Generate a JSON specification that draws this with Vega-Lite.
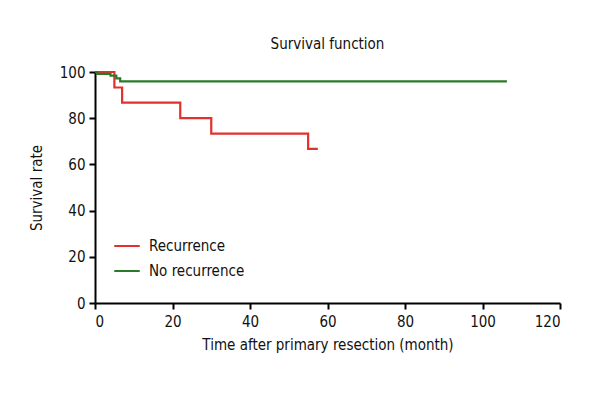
{
  "$schema": "https://vega.github.io/schema/vega-lite/v6.json",
  "width": 465,
  "height": 231,
  "autosize": {"type": "none"},
  "padding": {"left": 95, "top": 72, "right": 40, "bottom": 97},
  "background": "white",
  "title": {"text": "Survival function", "font": "Liberation Sans Narrow, DejaVu Sans Condensed, Roboto, sans-serif", "fontSize": 15, "fontWeight": "normal", "color": "#111", "offset": 13, "anchor": "middle"},
  "data": {"values": [
    {"group": "Recurrence", "time": 0, "survival": 100},
    {"group": "Recurrence", "time": 5, "survival": 93.3},
    {"group": "Recurrence", "time": 7, "survival": 86.7},
    {"group": "Recurrence", "time": 22, "survival": 80},
    {"group": "Recurrence", "time": 30, "survival": 73.3},
    {"group": "Recurrence", "time": 55, "survival": 66.7},
    {"group": "Recurrence", "time": 57.5, "survival": 66.7},
    {"group": "No recurrence", "time": 0, "survival": 100},
    {"group": "No recurrence", "time": 0.5, "survival": 99.2},
    {"group": "No recurrence", "time": 4, "survival": 98.4},
    {"group": "No recurrence", "time": 5.5, "survival": 97.2},
    {"group": "No recurrence", "time": 6.5, "survival": 95.9},
    {"group": "No recurrence", "time": 106.3, "survival": 95.9}
  ]},
  "mark": {"type": "line", "interpolate": "step-after", "strokeWidth": 2.2},
  "encoding": {
    "x": {"field": "time", "type": "quantitative", "scale": {"domain": [0, 120], "nice": false},
      "axis": {"values": [0, 20, 40, 60, 80, 100, 120], "title": "Time after primary resection (month)", "grid": false}},
    "y": {"field": "survival", "type": "quantitative", "scale": {"domain": [0, 100], "nice": false},
      "axis": {"values": [0, 20, 40, 60, 80, 100], "title": "Survival rate", "grid": false}},
    "color": {"field": "group", "type": "nominal",
      "scale": {"domain": ["Recurrence", "No recurrence"], "range": ["#e3302c", "#2a7a2a"]},
      "legend": {"title": null, "orient": "none", "legendX": 18, "legendY": 160, "symbolType": "stroke", "symbolSize": 650, "symbolStrokeWidth": 2, "labelFont": "Liberation Sans Narrow, DejaVu Sans Condensed, Roboto, sans-serif", "labelFontSize": 15, "labelColor": "#111", "rowPadding": 3, "labelOffset": 8}},
    "detail": {"field": "group"}
  },
  "config": {
    "view": {"stroke": null},
    "axis": {"domainColor": "#000", "domainWidth": 2, "tickColor": "#000", "tickWidth": 2, "tickSize": 6, "labelFont": "Liberation Sans Narrow, DejaVu Sans Condensed, Roboto, sans-serif", "labelFontSize": 15, "labelColor": "#111", "titleFont": "Liberation Sans Narrow, DejaVu Sans Condensed, Roboto, sans-serif", "titleFontSize": 15, "titleFontWeight": "normal", "titleColor": "#111", "labelPadding": 4},
    "axisX": {"titlePadding": 8, "labelPadding": 5},
    "axisY": {"titlePadding": 15}
  }
}
